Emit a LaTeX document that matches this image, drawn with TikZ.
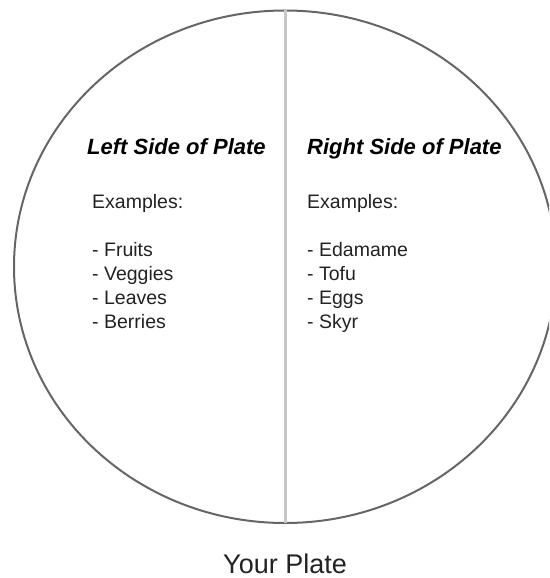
\documentclass[tikz,border=0pt]{standalone}
\usepackage{fontspec}
\setmainfont{Liberation Sans}
\definecolor{rimgray}{HTML}{666666}
\definecolor{splitgray}{HTML}{C8C8C8}
\definecolor{inkgray}{HTML}{222222}
\tikzset{
  sidetitle/.style={anchor=base west, inner sep=0pt, text=black,
    font=\fontsize{22}{26}\selectfont\bfseries\itshape},
  sideitem/.style={anchor=base west, inner sep=0pt, text=inkgray,
    font=\fontsize{19.5}{24}\selectfont}
}

\begin{document}
\begin{tikzpicture}[x=1pt, y=-1pt]
    \useasboundingbox (0,0) rectangle (549,578);
    \clip (0,0) rectangle (549,578);

    % Draw the plate and the line down its middle
    \draw[rimgray, line width=2pt] (285,266.75) ellipse [x radius=271, y radius=256.25];
    \draw[splitgray, line width=3pt] (285,10.5) -- (285,523);

    % Left side of the plate
    \node[sidetitle] (lefttitle) at (87,154) {Left Side of Plate};
    \node[sideitem] (leftex) at (92,208) {Examples:};
    \foreach \item [count=\i] in {Fruits, Veggies, Leaves, Berries}
        \node[sideitem] (left\i) at (92,232+24*\i) {- \item};

    % Right side of the plate
    \node[sidetitle] (righttitle) at (307,154) {Right Side of Plate};
    \node[sideitem] (rightex) at (307,208) {Examples:};
    \foreach \item [count=\i] in {Edamame, Tofu, Eggs, Skyr}
        \node[sideitem] (right\i) at (307,232+24*\i) {- \item};

    % Caption under the plate
    \node[anchor=base, inner sep=0pt, text=inkgray, font=\fontsize{27}{30}\selectfont]
        (caption) at (285,573) {Your Plate};
\end{tikzpicture}
\end{document}
